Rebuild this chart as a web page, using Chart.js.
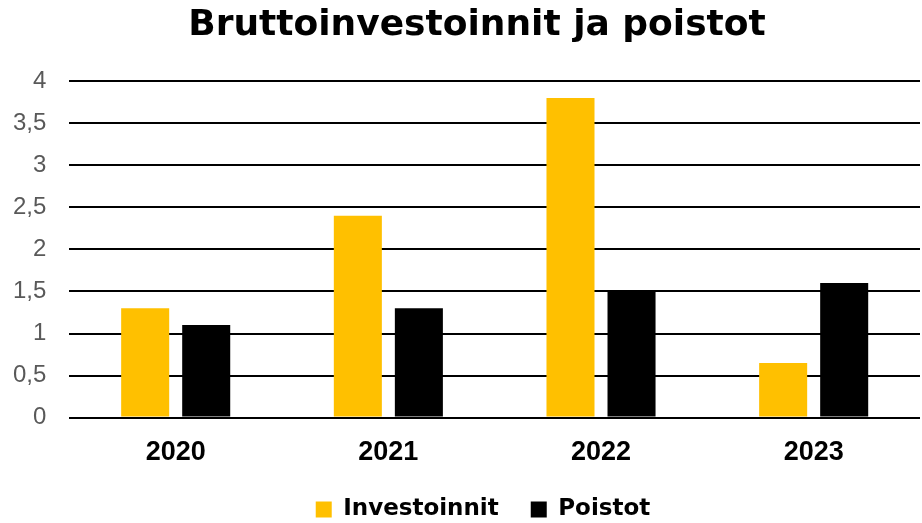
<!DOCTYPE html>
<html>
<head>
<meta charset="utf-8">
<script src="https://cdn.jsdelivr.net/npm/chart.js@4/dist/chart.umd.min.js"></script>
<style>
  html, body { margin: 0; padding: 0; background: #fff; }
  #wrap { width: 922px; height: 523px; position: relative; }
</style>
</head>
<body>
<div id="wrap"><canvas id="chart"></canvas></div>
<script>
// Chart data
const years = ['2020', '2021', '2022', '2023'];
const investoinnit = [1.3, 2.4, 3.8, 0.65];
const poistot = [1.1, 1.3, 1.5, 1.6];
const yTicks = [0, 0.5, 1, 1.5, 2, 2.5, 3, 3.5, 4];

const ORANGE = '#FFC000';
const BLACK = '#000000';

// title and legend sit a bit off the layout centre in the original
const nudgeBoxes = {
    id: 'nudgeBoxes',
    afterLayout(chart) {
        if (chart.titleBlock) {
            chart.titleBlock.left += 22;
            chart.titleBlock.right += 22;
        }
        const lg = chart.legend;
        if (lg) {
            lg.left += 28;
            lg.right += 28;
            // grow the legend box upwards, keep its bottom at the canvas edge
            lg.top -= 22;
            lg.height += 22;
        }
    }
};

new Chart(document.getElementById('chart'), {
    type: 'bar',
    data: {
        labels: years,
        datasets: [
            { label: 'Investoinnit', data: investoinnit, backgroundColor: ORANGE },
            { label: 'Poistot', data: poistot, backgroundColor: BLACK }
        ]
    },
    plugins: [nudgeBoxes],
    options: {
        responsive: true,
        maintainAspectRatio: false,
        animation: false,
        datasets: { bar: { categoryPercentage: 0.574, barPercentage: 0.787 } },
        layout: { padding: { left: -10, right: 2, top: 0, bottom: 0 } },
        plugins: {
            title: {
                display: true,
                text: 'Bruttoinvestoinnit ja poistot',
                color: '#000',
                font: { family: 'DejaVu Sans', size: 36, weight: 'bold' },
                padding: { top: 4, bottom: 34 }
            },
            legend: {
                position: 'bottom',
                maxHeight: 35,
                labels: {
                    color: '#000',
                    font: { family: 'DejaVu Sans', size: 23, weight: 'bold' },
                    boxWidth: 16,
                    boxHeight: 16,
                    padding: 32
                }
            },
            tooltip: { enabled: false }
        },
        scales: {
            x: {
                grid: { display: false, drawTicks: false },
                border: { display: false },
                ticks: {
                    color: '#000',
                    font: { family: 'Liberation Sans', size: 27, weight: 'bold' },
                    padding: 19
                }
            },
            y: {
                min: 0,
                max: 4,
                afterBuildTicks: axis => { axis.ticks = yTicks.map(v => ({ value: v })); },
                grid: { color: '#000', lineWidth: 2, drawTicks: false },
                border: { display: false },
                ticks: {
                    color: '#595959',
                    font: { family: 'Liberation Sans', size: 24 },
                    padding: 23,
                    callback: v => String(v).replace('.', ',')
                }
            }
        }
    }
});
</script>
</body>
</html>
